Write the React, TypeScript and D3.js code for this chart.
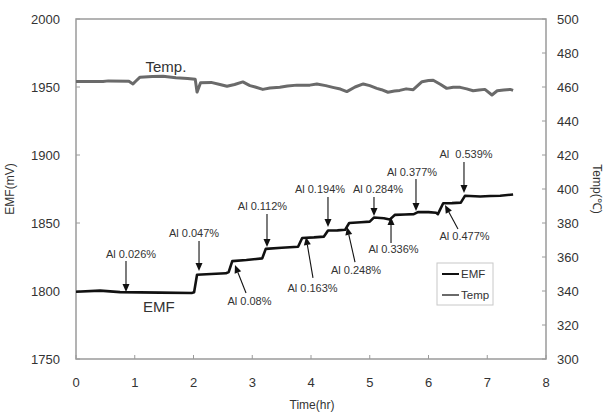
import React from "react";
import * as d3 from "d3";

// EMF series: [time (hr), EMF (mV)]
const emfTime = [0, 0.41, 0.75, 1.43, 1.97, 2.01, 2.06, 2.3, 2.55, 2.6, 2.66, 2.9, 3.17, 3.23, 3.5, 3.78, 3.85, 4.05, 4.22, 4.29, 4.45, 4.58, 4.65, 4.85, 5.0, 5.07, 5.24, 5.34, 5.43, 5.6, 5.75, 5.82, 6.0, 6.13, 6.16, 6.25, 6.4, 6.55, 6.62, 6.88, 7.05, 7.22, 7.44];
const emfValue = [1799.5, 1800.3, 1799.2, 1798.8, 1798.5, 1799, 1812, 1812.5, 1813, 1814, 1822, 1822.8, 1824, 1831, 1831.8, 1832.5, 1839, 1839.4, 1840, 1844.5, 1844.6, 1845, 1850, 1850.6, 1851, 1854, 1853.5, 1852.5, 1856, 1856.3, 1856.5, 1858, 1858, 1857.5, 1856.5, 1864.5, 1864.6, 1865, 1870, 1869.5, 1869.8, 1870, 1871];

// Temperature series: [time (hr), Temp (°C)]
const tempTime = [0, 0.46, 0.55, 0.9, 0.97, 1.02, 1.09, 1.3, 1.48, 1.7, 1.9, 2.03, 2.06, 2.12, 2.3, 2.45, 2.57, 2.7, 2.84, 2.96, 3.05, 3.18, 3.3, 3.47, 3.6, 3.76, 3.98, 4.1, 4.25, 4.37, 4.5, 4.61, 4.75, 4.89, 5.0, 5.12, 5.2, 5.31, 5.42, 5.51, 5.62, 5.74, 5.89, 6.0, 6.08, 6.2, 6.31, 6.42, 6.54, 6.65, 6.76, 6.86, 6.96, 7.08, 7.17, 7.28, 7.39, 7.44];
const tempValue = [463.2, 463.2, 463.6, 463.4, 461.8, 463.5, 465.8, 466.2, 466.3, 465.5, 465, 464.5, 457.0, 462.5, 462.7, 461.5, 460.4, 461.5, 463, 460.8, 460, 458.6, 459.4, 459.8, 460.6, 461.1, 461.1, 461.8, 460.8, 459.8, 458.8, 457.3, 460, 461.8, 460.8, 459.2, 458.4, 456.9, 457.6, 458, 458.9, 458.4, 463.1, 463.8, 464, 461.6, 459.2, 459.9, 459.8, 458.9, 457.8, 458.2, 458.6, 455.3, 457.8, 458.2, 458.6, 458];

// Annotations (data coordinates): label, arrow tip, arrow tail, label anchor
const annLabels = ["Al 0.026%", "Al 0.047%", "Al 0.112%", "Al 0.194%", "Al 0.284%", "Al 0.377%", "Al  0.539%", "Al 0.08%", "Al 0.163%", "Al 0.248%", "Al 0.336%", "Al 0.477%"];
const annTip = [[0.851, 1799.3], [2.094, 1814.7], [3.251, 1832.4], [4.289, 1847.1], [5.072, 1855.1], [5.787, 1858.8], [6.604, 1872.1], [2.706, 1819.1], [3.915, 1839.7], [4.613, 1847.1], [5.362, 1854.4], [6.281, 1863.2]];
const annTail = [[0.851, 1822], [2.094, 1836.8], [3.251, 1856.6], [4.289, 1869.1], [5.072, 1869.1], [5.787, 1882.4], [6.604, 1894.9], [2.894, 1798.5], [4.034, 1809.6], [4.749, 1821.3], [5.362, 1835.3], [6.502, 1845.6]];
const annText = [[0.936, 1824.3], [2.009, 1839.7], [3.174, 1859.6], [4.153, 1872], [5.14, 1872], [5.719, 1884.8], [6.638, 1897.8], [2.953, 1789.7], [4.026, 1799.5], [4.766, 1812.5], [5.404, 1827.9], [6.613, 1837.5]];

const xTicks = [0, 1, 2, 3, 4, 5, 6, 7, 8];
const yLeftTicks = [1750, 1800, 1850, 1900, 1950, 2000];
const yRightTicks = [300, 320, 340, 360, 380, 400, 420, 440, 460, 480, 500];

export default function App() {
  const W = 606, H = 413;
  const left = 76, right = 546, top = 19, bottom = 359;
  const x = d3.scaleLinear().domain([0, 8]).range([left, right]);
  const yL = d3.scaleLinear().domain([1750, 2000]).range([bottom, top]);
  const yR = d3.scaleLinear().domain([300, 500]).range([bottom, top]);

  const emfLine = d3.line<number>().x((d, i) => x(emfTime[i])).y((d) => yL(d));
  const tempLine = d3.line<number>().x((d, i) => x(tempTime[i])).y((d) => yR(d));

  const font = "Liberation Sans, Arial, Helvetica, sans-serif";
  const axisColor = "#9a9a9a";
  const textColor = "#333";

  return (
    <svg width={W} height={H} style={{ position: "absolute", left: 0, top: 0, background: "#fff" }} fontFamily={font}>
      <rect x={0} y={0} width={W} height={H} fill="#fff" />
      {/* frame */}
      <rect x={left} y={top} width={right - left} height={bottom - top} fill="none" stroke={axisColor} strokeWidth={1.5} />
      {/* ticks */}
      {xTicks.map((t) => (
        <g key={"x" + t}>
          <line x1={x(t)} x2={x(t)} y1={bottom} y2={bottom - 4} stroke={axisColor} />
          <text x={x(t)} y={387} textAnchor="middle" fontSize={13} fill={textColor}>{t}</text>
        </g>
      ))}
      {yLeftTicks.map((v) => (
        <g key={"yl" + v}>
          <line x1={left} x2={left + 4} y1={yL(v)} y2={yL(v)} stroke={axisColor} />
          <text x={60} y={yL(v) + 4.5} textAnchor="end" fontSize={13} fill={textColor}>{v}</text>
        </g>
      ))}
      {yRightTicks.map((v) => (
        <g key={"yr" + v}>
          <line x1={right} x2={right - 4} y1={yR(v)} y2={yR(v)} stroke={axisColor} />
          <text x={557} y={yR(v) + 4.5} textAnchor="start" fontSize={13} fill={textColor}>{v}</text>
        </g>
      ))}
      {/* axis titles */}
      <text transform={`translate(14, ${(top + bottom) / 2}) rotate(-90)`} textAnchor="middle" fontSize={12} fill={textColor}>EMF(mV)</text>
      <text transform={`translate(593, ${(top + bottom) / 2}) rotate(90)`} textAnchor="middle" fontSize={12} fill={textColor}>Temp(℃)</text>
      <text x={312} y={409} textAnchor="middle" fontSize={12} fill={textColor}>Time(hr)</text>

      {/* series */}
      <path d={tempLine(tempValue) || ""} fill="none" stroke="#6a6a6a" strokeWidth={3} strokeLinejoin="round" />
      <path d={emfLine(emfValue) || ""} fill="none" stroke="#111" strokeWidth={2.6} strokeLinejoin="round" />

      {/* series labels */}
      <text x={x(1.53)} y={yL(1961)} textAnchor="middle" fontSize={15} fill={textColor}>Temp.</text>
      <text x={x(1.41)} y={yL(1784.5)} textAnchor="middle" fontSize={15} fill={textColor}>EMF</text>

      {/* annotations */}
      {annLabels.map((lab, i) => {
        const tx = x(annTip[i][0]), ty = yL(annTip[i][1]);
        const sx = x(annTail[i][0]), sy = yL(annTail[i][1]);
        const dx = tx - sx, dy = ty - sy;
        const len = Math.sqrt(dx * dx + dy * dy);
        const ux = dx / len, uy = dy / len;
        const hl = 8, hw = 3.5;
        const bx = tx - ux * hl, by = ty - uy * hl;
        const p1 = `${tx},${ty}`;
        const p2 = `${bx - uy * hw},${by + ux * hw}`;
        const p3 = `${bx + uy * hw},${by - ux * hw}`;
        return (
          <g key={"a" + i}>
            <line x1={sx} y1={sy} x2={bx} y2={by} stroke="#111" strokeWidth={1.1} />
            <polygon points={`${p1} ${p2} ${p3}`} fill="#111" />
            <text x={x(annText[i][0])} y={yL(annText[i][1])} textAnchor="middle" fontSize={11} fill={textColor} style={{ whiteSpace: "pre" }}>{lab}</text>
          </g>
        );
      })}

      {/* legend */}
      <rect x={437} y={263} width={56} height={42} fill="#fff" stroke="#c8c8c8" strokeWidth={1} />
      <line x1={442} x2={459} y1={274} y2={274} stroke="#111" strokeWidth={2} />
      <text x={461} y={278} fontSize={11.5} fill={textColor}>EMF</text>
      <line x1={442} x2={459} y1={295} y2={295} stroke="#6a6a6a" strokeWidth={2} />
      <text x={461} y={299} fontSize={11.5} fill={textColor}>Temp</text>
    </svg>
  );
}
